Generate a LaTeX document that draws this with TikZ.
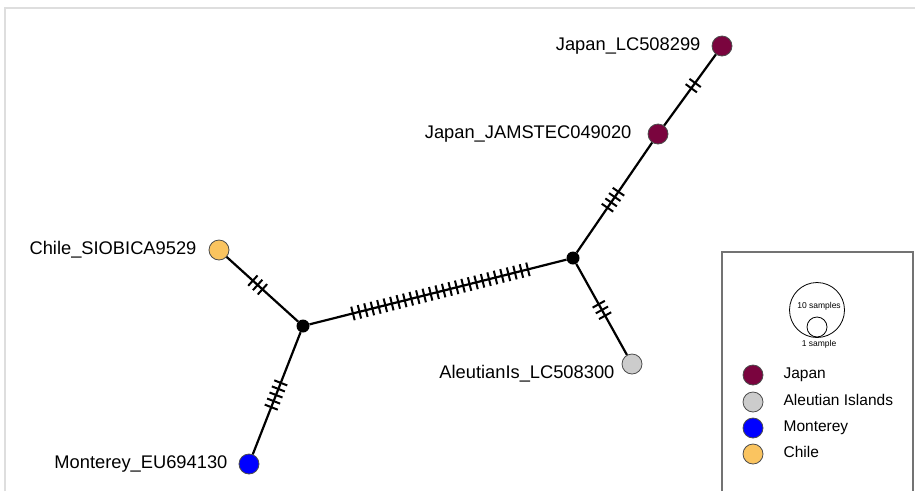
\documentclass[tikz,border=0pt]{standalone}
\usepackage{fontspec}
\setmainfont{Liberation Sans}
\usetikzlibrary{calc,positioning}
\definecolor{japan}{RGB}{122,4,62}
\definecolor{aleut}{RGB}{204,204,204}
\definecolor{monterey}{RGB}{0,0,255}
\definecolor{chile}{RGB}{250,196,96}

\begin{document}
\begin{tikzpicture}[x=1pt,y=-1pt,
    pop/.style={circle, draw=black!70, line width=0.8pt, minimum size=20pt, inner sep=0pt, fill=#1},
    hub/.style={circle, fill=black, minimum size=13pt, inner sep=0pt},
    edge/.style={line width=2.2pt},
    tick/.style={line width=2pt},
    lab/.style={inner sep=0pt, font=\fontsize{18.3}{20}\selectfont},
    leg/.style={inner sep=0pt, font=\fontsize{15.5}{17}\selectfont}]
    \useasboundingbox (0,0) rectangle (915,491);

    % outer frame
    \draw[black!13, line width=1.5pt] (5,491) -- (5,8) -- (915,8);

    % haplotypes
    \node[pop=japan] (jpA) at (722,46) {};
    \node[pop=japan] (jpB) at (658,134) {};
    \node[pop=aleut] (al) at (632,364) {};
    \node[pop=chile] (ch) at (219,250) {};
    \node[pop=monterey] (mo) at (249,464) {};

    % median vectors
    \node[hub] (hubR) at (573,258) {};
    \node[hub] (hubL) at (303,326) {};

    % labels
    \node[lab, left=11pt of jpA] (jpAlab) {Japan\_LC508299};
    \node[lab, left=16pt of jpB] (jpBlab) {Japan\_JAMSTEC049020};
    \node[lab, left=12pt of ch] (chlab) {Chile\_SIOBICA9529};
    \node[lab, left=11pt of mo] (molab) {Monterey\_EU694130};
    \node[lab, anchor=east] (allab) at ([shift={(-7pt,-10pt)}]al.west) {AleutianIs\_LC508300};

    % links
    \draw[edge] (jpA) -- (jpB);
    \draw[edge] (jpB) -- (hubR);
    \draw[edge] (hubR) -- (al);
    \draw[edge] (hubR) -- (hubL);
    \draw[edge] (hubL) -- (ch);
    \draw[edge] (hubL) -- (mo);

    % mutation ticks: from/to/count/centre/spacing
    \foreach \a/\b/\n/\c/\s in {jpA/jpB/2/0.45/0.06, jpB/hubR/4/0.53/0.043,
        hubR/al/3/0.49/0.054, ch/hubL/3/0.46/0.057, hubL/mo/5/0.5/0.044,
        hubL/hubR/28/0.509/0.024}{
      \foreach \k in {1,...,\n}{
        \pgfmathsetmacro{\fr}{\c+(\k-(\n+1)/2)*\s}
        \draw[tick] ($(\a)!\fr!(\b)!7pt!90:(\b)$) -- ($(\a)!\fr!(\b)!7pt!-90:(\b)$);
      }
    }

    % legend
    \draw[black!55, line width=1.2pt] (722,491) -- (722,252) -- (913,252) -- (913,491);
    \node[circle, draw, line width=0.8pt, minimum size=55pt, inner sep=0pt] (bigSz) at (817,310) {};
    \node[circle, draw, line width=0.8pt, minimum size=20pt, inner sep=0pt] (smallSz) at (817,327) {};
    \node[inner sep=0pt, font=\fontsize{8.5}{10}\selectfont] (bigTxt) at (819,306) {10 samples};
    \node[inner sep=0pt, font=\fontsize{8.5}{10}\selectfont] (smallTxt) at (819,344) {1 sample};
    \foreach \col/\txt/\y in {japan/Japan/375, aleut/Aleutian Islands/402,
        monterey/Monterey/428, chile/Chile/454}{
      \node[pop=\col] (lg\col) at (753,\y) {};
      \node[leg, anchor=base west] (lgt\col) at ([shift={(20pt,-3pt)}]lg\col.east) {\txt};
    }
\end{tikzpicture}
\end{document}
